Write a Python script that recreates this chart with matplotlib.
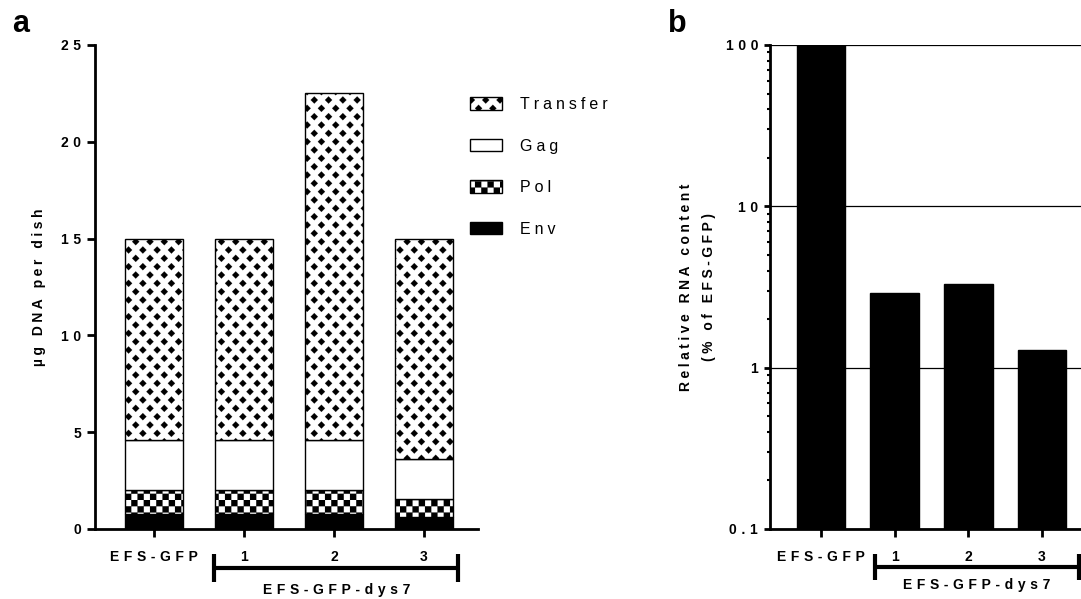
import matplotlib
matplotlib.use('Agg')
import matplotlib.pyplot as plt
import matplotlib.hatch as mhatch
from matplotlib.path import Path
from matplotlib.ticker import LogLocator, NullFormatter
import numpy as np

plt.rcParams['font.family'] = ['Liberation Sans', 'DejaVu Sans']
plt.rcParams['font.weight'] = 'bold'
plt.rcParams['axes.labelweight'] = 'bold'
plt.rcParams['hatch.linewidth'] = 0.1

# data
groups = ['EFS-GFP', '1', '2', '3']
group_label = 'EFS-GFP-dys7'
env = [0.8, 0.8, 0.8, 0.6]
pol = [1.2, 1.2, 1.2, 0.95]
gag = [2.6, 2.6, 2.6, 2.05]
transfer = [10.4, 10.4, 17.9, 11.4]
rna = [100, 2.9, 3.3, 1.29]

a_ticks = [0, 5, 10, 15, 20, 25]
b_ticks = [0.1, 1, 10, 100]
b_ticklabels = ['0.1', '1', '10', '100']


def spaced(s, gap='\u2004'):
    # prism style letter tracking
    return gap.join(s)


# two custom fills: 'o' = checkerboard (Pol), 'O' = black diamonds (Transfer)
class Checker(mhatch.HatchPatternBase):
    def __init__(self, hatch, density):
        self.n = 16 if 'o' in hatch else 0
        self.num_vertices = (self.n * self.n // 2) * 5

    def set_vertices_and_codes(self, vertices, codes):
        a = 1.0 / self.n
        k = 0
        for i in range(self.n):
            for j in range(self.n):
                if (i + j) % 2:
                    continue
                x, y = i * a, j * a
                vertices[k:k + 5] = [(x, y), (x + a, y), (x + a, y + a), (x, y + a), (x, y)]
                codes[k:k + 5] = [Path.MOVETO, Path.LINETO, Path.LINETO, Path.LINETO, Path.CLOSEPOLY]
                k += 5


class Diamonds(mhatch.HatchPatternBase):
    nx, ny, h = 7, 6, 0.036

    def __init__(self, hatch, density):
        on = 'O' in hatch
        self.centers = []
        if on:
            for i in range(self.nx + 1):
                for j in range(self.ny + 1):
                    self.centers.append((i / self.nx, j / self.ny))
            for i in range(self.nx):
                for j in range(self.ny):
                    self.centers.append(((i + 0.5) / self.nx, (j + 0.5) / self.ny))
        self.num_vertices = len(self.centers) * 5

    def set_vertices_and_codes(self, vertices, codes):
        h = self.h
        for k, (cx, cy) in enumerate(self.centers):
            vertices[5 * k:5 * k + 5] = [(cx - h, cy), (cx, cy - h), (cx + h, cy), (cx, cy + h), (cx - h, cy)]
            codes[5 * k:5 * k + 5] = [Path.MOVETO, Path.LINETO, Path.LINETO, Path.LINETO, Path.CLOSEPOLY]


mhatch._hatch_types = [Checker, Diamonds]

fig = plt.figure(figsize=(10.81, 5.99), dpi=100)
ax1 = fig.add_axes([95 / 1081, 70 / 599, 383 / 1081, 484 / 599])
ax2 = fig.add_axes([770 / 1081, 70 / 599, 311 / 1081, 484 / 599])

x = np.arange(len(groups))

# ---- panel a : stacked bars
bottom = np.zeros(len(groups))
layers = [('Env', env, 'black', None),
          ('Pol', pol, 'white', 'o'),
          ('Gag', gag, 'white', None),
          ('Transfer', transfer, 'white', 'O')]
handles = {}
for name, vals, fc, h in layers:
    handles[name] = ax1.bar(x, vals, 0.65, bottom=bottom, color=fc, edgecolor='black',
                            linewidth=1.0, hatch=h)
    bottom += np.array(vals)

ax1.set_xlim(-0.656, 3.6)
ax1.set_ylim(0, 25)
ax1.set_yticks(a_ticks, [spaced(str(t)) for t in a_ticks])
ax1.set_ylabel(spaced('µg DNA per dish', '\u2005'), fontsize=10, va='center')
ax1.yaxis.set_label_coords(-0.146, 0.5)

order = ['Transfer', 'Gag', 'Pol', 'Env']
ax1.legend([handles[n] for n in order], [spaced(n, '\u2005') for n in order],
           loc='upper left', bbox_to_anchor=(470 / 1081, 1 - 97 / 599),
           bbox_transform=fig.transFigure, frameon=False,
           prop={'weight': 'normal', 'size': 11.5},
           handlelength=2.0, handleheight=0.85, handletextpad=1.1,
           labelspacing=1.66, borderpad=0, borderaxespad=0)

# ---- panel b : log bars
ax2.bar(x, rna, 0.66, color='black', edgecolor='black', linewidth=1.0, zorder=3)
ax2.set_yscale('log')
ax2.set_ylim(0.1, 100)
ax2.set_xlim(-0.69, 3.53)
ax2.set_yticks(b_ticks, [spaced(t) for t in b_ticklabels])
ax2.yaxis.set_minor_locator(LogLocator(base=10, subs=np.arange(2, 10)))
ax2.yaxis.set_minor_formatter(NullFormatter())
ax2.yaxis.grid(True, which='major', color='black', linewidth=0.9)
ax2.set_axisbelow(True)
ax2.set_ylabel(spaced('Relative RNA content', '\u2005') + '\n'
               + spaced('(% of EFS-GFP)', '\u2005'),
               fontsize=10, va='center', linespacing=1.9)
ax2.yaxis.set_label_coords(-0.233, 0.5)

for ax in (ax1, ax2):
    ax.spines[['top', 'right']].set_visible(False)
    ax.spines[['left', 'bottom']].set_linewidth(2)
    ax.set_xticks(x, [spaced(g) for g in groups])
    ax.tick_params(axis='x', length=6, width=2, pad=9, labelsize=10)
    ax.tick_params(axis='y', which='major', width=2, labelsize=10)
ax1.tick_params(axis='y', length=6, pad=4)
ax2.tick_params(axis='y', which='major', length=4.5, pad=4)
ax2.tick_params(axis='y', which='minor', length=2.5, width=1.5)


def bracket(ax, x0, x1, y, cap, ty):
    tr = ax.get_xaxis_transform()
    ax.plot([x0, x1], [y, y], color='black', lw=3, transform=tr, clip_on=False,
            solid_capstyle='butt')
    for xx in (x0, x1):
        ax.plot([xx, xx], [y - cap, y + cap], color='black', lw=3, transform=tr,
                clip_on=False, solid_capstyle='butt')
    ax.text((x0 + x1) / 2, ty, spaced(group_label), transform=tr, ha='center',
            va='center', fontsize=10)


bracket(ax1, 0.67, 3.38, -0.0806, 0.028, -0.126)
bracket(ax2, 0.73, 3.5, -0.0785, 0.026, -0.116)

fig.text(12 / 1081, 1 - 32 / 599, 'a', fontsize=22, va='baseline')
fig.text(668 / 1081, 1 - 32 / 599, 'b', fontsize=22, va='baseline')

fig.savefig('out.png', dpi=100)
